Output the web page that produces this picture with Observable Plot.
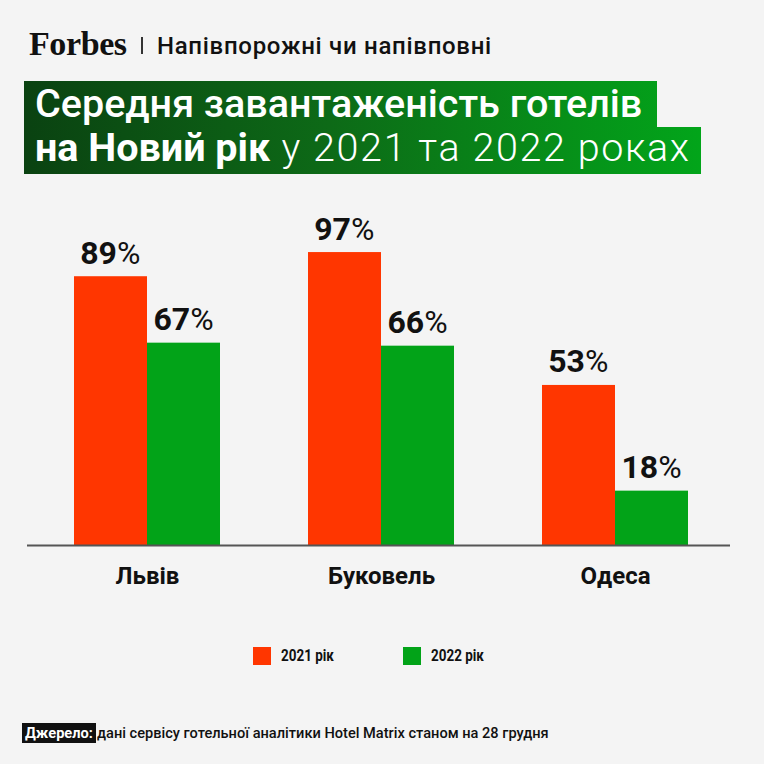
<!DOCTYPE html>
<html>
<head>
<meta charset="utf-8">
<script src="https://cdn.jsdelivr.net/npm/d3@7"></script>
<script src="https://cdn.jsdelivr.net/npm/@observablehq/plot@0.6"></script>
<style>
  html, body { margin: 0; padding: 0; background: #f4f4f4; }
  #root { position: relative; width: 764px; height: 764px; background: #f4f4f4; overflow: hidden; font-family: Roboto, "Noto Sans", sans-serif; }
  .abs { position: absolute; white-space: nowrap; }
  #logo { left: 29px; top: 24px; font-family: "Liberation Serif", "DejaVu Serif", serif; font-weight: bold; font-size: 34px; letter-spacing: -0.4px; color: #111; line-height: 40px; }
  #sep { left: 141px; top: 37px; width: 1.5px; height: 17px; background: #333; }
  #kicker { left: 157px; top: 30px; font-size: 24px; letter-spacing: 0.7px; font-weight: 500; color: #111; line-height: 32px; }
  .band { position: absolute; left: 24px; background: linear-gradient(90deg, #0a4211 0%, #0d6a17 45%, #02a51a 100%); background-size: 677px 100%; background-repeat: no-repeat; }
  #band1 { top: 81px; width: 633px; height: 46px; }
  #band2 { top: 127px; width: 677px; height: 47px; }
  .tline { position: absolute; left: 35px; color: #fff; font-size: 39.5px; line-height: 40px; white-space: nowrap; }
  #t1 { top: 84px; font-weight: 500; }
  #t2 { top: 128px; font-weight: 300; letter-spacing: 1.6px; }
  #t2 b { font-weight: 700; letter-spacing: 0; }
  #chart { position: absolute; left: 0; top: 200px; }
  .leg { position: absolute; top: 647px; width: 18px; height: 18px; }
  .legt { position: absolute; top: 645px; font-size: 16px; font-weight: 700; color: #111; line-height: 22px; transform: scaleX(0.84); transform-origin: left center; white-space: nowrap; }
  #srcbox { left: 22px; top: 723px; height: 20px; padding: 0 3px; background: #111; color: #fff; font-size: 14.6px; font-weight: 700; line-height: 20px; }
  #srct { left: 97px; top: 723px; font-size: 14.6px; font-weight: 500; color: #111; line-height: 20px; }
</style>
</head>
<body>
<div id="root">
  <div id="logo" class="abs">Forbes</div>
  <div id="sep" class="abs"></div>
  <div id="kicker" class="abs">Напівпорожні чи напівповні</div>
  <div id="band1" class="band"></div>
  <div id="band2" class="band"></div>
  <div id="t1" class="tline">Середня завантаженість готелів</div>
  <div id="t2" class="tline"><b>на Новий рік</b> у 2021 та 2022 роках</div>
  <div id="chart"></div>
  <div id="leg1" class="leg"></div>
  <div id="legt1" class="legt"></div>
  <div id="leg2" class="leg"></div>
  <div id="legt2" class="legt"></div>
  <div id="srcbox" class="abs">Джерело:</div>
  <div id="srct" class="abs">дані сервісу готельної аналітики Hotel Matrix станом на 28 грудня</div>
</div>
<script>
const cities = ["Львів", "Буковель", "Одеса"];
const values2021 = [89, 97, 53];
const values2022 = [67, 66, 18];
const seriesLabels = ["2021 рік", "2022 рік"];
const colors = ["#ff3600", "#02a318"];

const rows = cities.map((c, i) => ({city: c, v2021: values2021[i], v2022: values2022[i]}));
const half = 146.5 / 4; // offset from band centre to each bar's centre

const numFont = "Roboto";
const numSize = 32;
const chart = Plot.plot({
  width: 764,
  height: 410,
  marginLeft: 27,
  marginRight: 34,
  marginTop: 43,
  marginBottom: 65,
  style: {background: "transparent", overflow: "visible"},
  x: {domain: cities, paddingInner: 0.376, paddingOuter: 0.185, align: 0.523, label: null},
  y: {domain: [0, 100], axis: null},
  marks: [
    Plot.barY(rows, {x: "city", y: "v2021", fill: colors[0], insetRight: 146.5 / 2 - 0.25}),
    Plot.barY(rows, {x: "city", y: "v2022", fill: colors[1], insetLeft: 146.5 / 2 - 0.25}),
    Plot.ruleY([0], {stroke: "#555", strokeWidth: 2}),
    Plot.text(rows, {x: "city", y: "v2021", text: d => String(d.v2021), dx: -half + 6, dy: -13, textAnchor: "end", lineAnchor: "bottom", fontSize: numSize, fontWeight: "bold", fontFamily: numFont, fill: "#111"}),
    Plot.text(rows, {x: "city", y: "v2021", text: () => "%", dx: -half + 6, dy: -13, textAnchor: "start", lineAnchor: "bottom", fontSize: numSize, fontWeight: "normal", fontFamily: numFont, fill: "#111"}),
    Plot.text(rows, {x: "city", y: "v2022", text: d => String(d.v2022), dx: half + 6, dy: -13, textAnchor: "end", lineAnchor: "bottom", fontSize: numSize, fontWeight: "bold", fontFamily: numFont, fill: "#111"}),
    Plot.text(rows, {x: "city", y: "v2022", text: () => "%", dx: half + 6, dy: -13, textAnchor: "start", lineAnchor: "bottom", fontSize: numSize, fontWeight: "normal", fontFamily: numFont, fill: "#111"}),
    Plot.axisX({tickSize: 0, tickPadding: 21, fontSize: 24, fontWeight: "bold", fontFamily: "Roboto", fill: "#111", label: null})
  ]
});
document.getElementById("chart").appendChild(chart);

// legend
const legX = [253, 403];
const legTX = [281, 431];
["1", "2"].forEach((k, i) => {
  const sq = document.getElementById("leg" + k);
  sq.style.left = legX[i] + "px";
  sq.style.background = colors[i];
  const t = document.getElementById("legt" + k);
  t.style.left = legTX[i] + "px";
  t.textContent = seriesLabels[i];
});
</script>
</body>
</html>
